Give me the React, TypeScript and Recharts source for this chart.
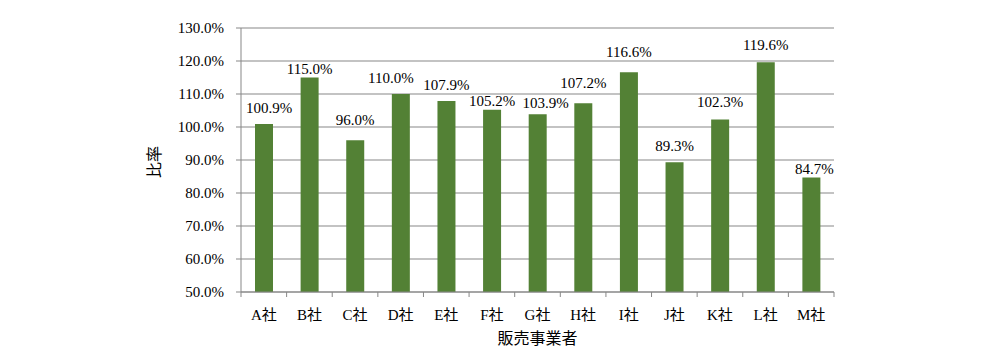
import React from 'react';
import { BarChart, Bar, XAxis, YAxis, CartesianGrid, LabelList } from 'recharts';

const categories = ['A社', 'B社', 'C社', 'D社', 'E社', 'F社', 'G社', 'H社', 'I社', 'J社', 'K社', 'L社', 'M社'];
const ratios = [100.9, 115.0, 96.0, 110.0, 107.9, 105.2, 103.9, 107.2, 116.6, 89.3, 102.3, 119.6, 84.7];
const yTicks = [50, 60, 70, 80, 90, 100, 110, 120, 130];

// label nudges (layout only): [dx, dy] relative to default position above bar
const labelNudges: [number, number][] = [
  [5, 0], [0, 7], [0, -4], [-10, 0], [0, 0], [0, 7], [8, 5],
  [0, -4], [0, -4], [0, 0], [0, -1], [0, -1], [3, 8],
];

const data = categories.map((c, i) => ({ name: c, ratio: ratios[i] }));

const W = 977;
const H = 354;
const M = { top: 20, right: 151, bottom: 25, left: 0 };
const Y_AXIS_W = 233;
const X_AXIS_H = 45;
const PLOT_W = W - M.left - M.right - Y_AXIS_W;
const STEP = PLOT_W / categories.length;
const TICK_SIZE = 5;
const TICK_MARGIN = 12;
const GRID = '#878787';
const FONT = "'Liberation Serif', 'Times New Roman', 'DejaVu Serif', serif, 'Noto Sans CJK JP'";

const XTick = (props: any) => {
  const { x, y, payload, index } = props;
  const axisY = y - TICK_SIZE - TICK_MARGIN;
  const lx = x - STEP / 2;
  const isLast = index === categories.length - 1;
  return (
    <g>
      <line x1={lx} x2={lx} y1={axisY} y2={axisY + TICK_SIZE} stroke={GRID} strokeWidth={1} />
      {isLast && (
        <line x1={x + STEP / 2} x2={x + STEP / 2} y1={axisY} y2={axisY + TICK_SIZE} stroke={GRID} strokeWidth={1} />
      )}
      <text x={x} y={y} dy="0.71em" textAnchor="middle" fill="#000" fontSize={15} style={{ fontFamily: FONT }}>
        {payload.value}
      </text>
    </g>
  );
};

const BarLabel = (props: any) => {
  const { x, y, width, value, index } = props;
  const [dx, dy] = labelNudges[index] || [0, 0];
  return (
    <text x={x + width / 2 + dx} y={y - 11 + dy} textAnchor="middle" fill="#000" fontSize={15} style={{ fontFamily: FONT }}>
      {`${Number(value).toFixed(1)}%`}
    </text>
  );
};

export default function App() {
  return (
    <div style={{ width: W, height: H, background: '#fff', fontFamily: FONT }}>
      <BarChart width={W} height={H} data={data} margin={M} barCategoryGap={0} style={{ fontFamily: FONT }}>
        <CartesianGrid horizontal vertical={false} stroke={GRID} strokeWidth={1} />
        <XAxis
          dataKey="name"
          height={X_AXIS_H}
          interval={0}
          stroke={GRID}
          axisLine={{ stroke: GRID, strokeWidth: 1 }}
          tickLine={false}
          tickSize={TICK_SIZE}
          tickMargin={TICK_MARGIN}
          tick={<XTick />}
          label={{
            content: (p: any) => {
              const vb = p.viewBox || {};
              return (
                <text
                  x={vb.x + vb.width / 2}
                  y={vb.y + 46}
                  dy="0.35em"
                  textAnchor="middle"
                  fill="#000"
                  fontSize={16}
                  style={{ fontFamily: FONT }}
                >
                  販売事業者
                </text>
              );
            },
          }}
        />
        <YAxis
          width={Y_AXIS_W}
          domain={[50, 130]}
          ticks={yTicks}
          interval={0}
          allowDataOverflow
          axisLine={{ stroke: GRID, strokeWidth: 1 }}
          tickLine={{ stroke: GRID, strokeWidth: 1 }}
          tickSize={TICK_SIZE}
          tickMargin={TICK_MARGIN}
          tick={{ fill: '#000', fontSize: 15, style: { fontFamily: FONT } }}
          tickFormatter={(v: number) => `${v.toFixed(1)}%`}
          label={{
            content: (p: any) => {
              const vb = p.viewBox || {};
              const cx = vb.x + 146;
              const cy = vb.y + vb.height / 2 + 2;
              return (
                <text
                  x={cx}
                  y={cy}
                  dy="0.35em"
                  textAnchor="middle"
                  fill="#000"
                  fontSize={16}
                  style={{ fontFamily: FONT }}
                  transform={`rotate(-90 ${cx} ${cy})`}
                >
                  比率
                </text>
              );
            },
          }}
        />
        <Bar dataKey="ratio" fill="#538135" barSize={18} isAnimationActive={false}>
          <LabelList dataKey="ratio" content={<BarLabel />} />
        </Bar>
      </BarChart>
    </div>
  );
}
